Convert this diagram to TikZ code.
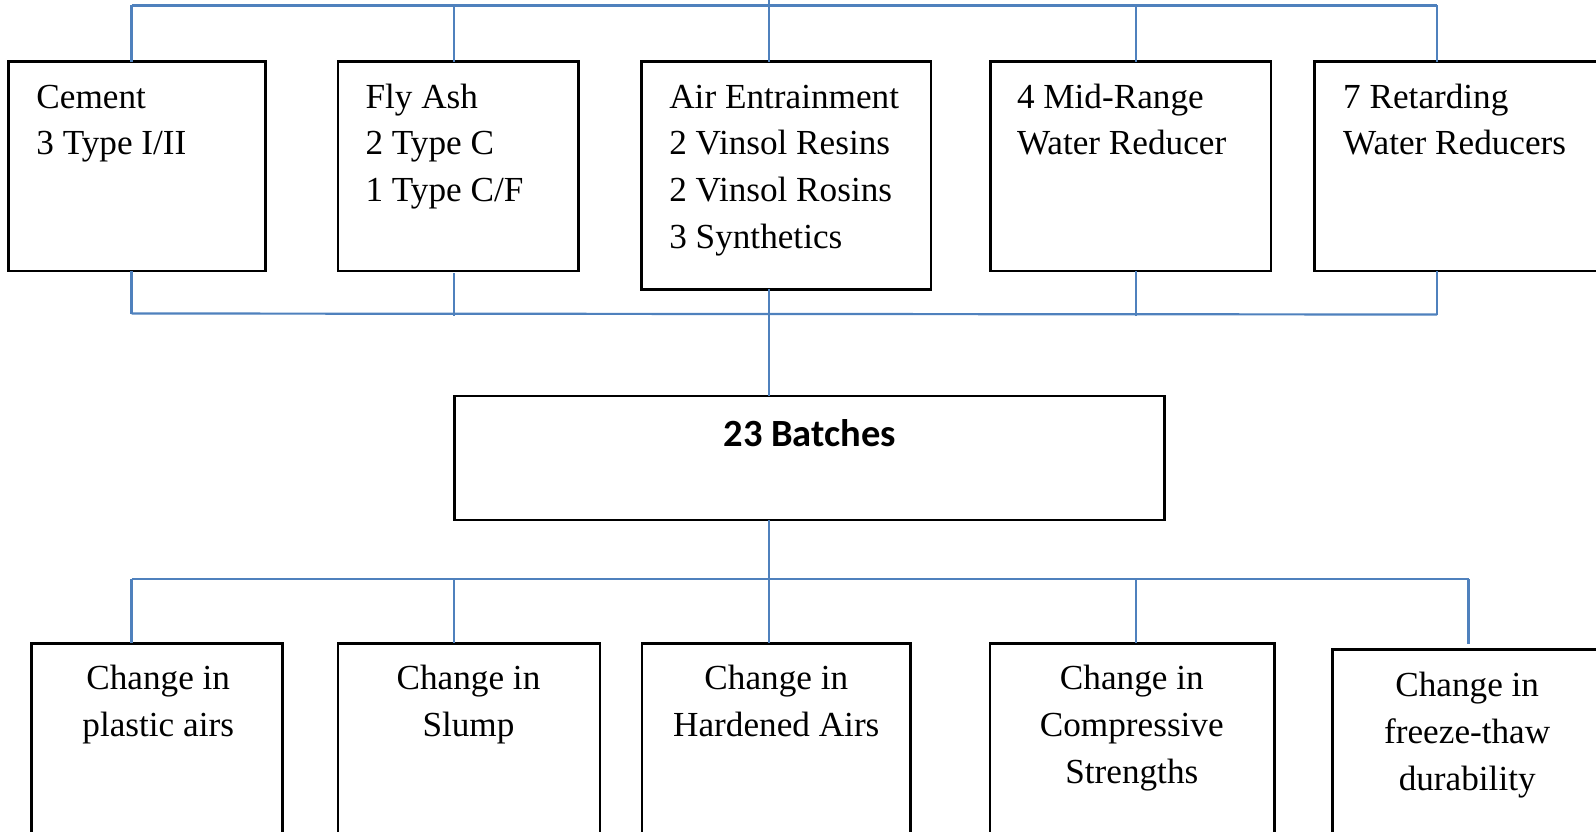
\documentclass[tikz,border=0pt]{standalone}
\usepackage{fontspec}
\usetikzlibrary{calc}
\setmainfont{Liberation Serif}
\newfontfamily\carlito{Carlito}
\definecolor{lineblue}{HTML}{4F81BD}
\begin{document}
\begin{tikzpicture}[x=1pt,y=-1pt,
  box/.style={draw=black, line width=2.6pt, inner sep=0pt, outer sep=0pt, anchor=north west},
  conn/.style={draw=lineblue, line width=2.2pt},
  lbl/.style={inner sep=0pt, outer sep=0pt, font=\fontsize{35.2}{46.7}\selectfont},
  toplbl/.style={lbl, anchor=north west, align=left},
  botlbl/.style={lbl, anchor=north, align=center}]
\useasboundingbox (0,0) rectangle (1596,832);

% top row boxes
\node[box, minimum width=256.8pt, minimum height=209.3pt] (cement) at (8.4,61.7) {};
\node[box, minimum width=240.5pt, minimum height=209.3pt] (flyash) at (337.8,61.7) {};
\node[box, minimum width=289.3pt, minimum height=227.6pt] (air) at (641.7,61.7) {};
\node[box, minimum width=280.6pt, minimum height=209.3pt] (mid) at (990.4,61.7) {};
\node[box, minimum width=295.3pt, minimum height=209.3pt] (retard) at (1314.7,61.7) {};

\node[toplbl] (cementtxt) at (36.4,75.5) {\strut Cement\\3 Type I/II};
\node[toplbl] (flyashtxt) at (365.5,75.5) {\strut Fly Ash\\2 Type C\\1 Type C/F};
\node[toplbl] (airtxt) at (669.3,75.5) {\strut Air Entrainment\\2 Vinsol Resins\\2 Vinsol Rosins\\3 Synthetics};
\node[toplbl] (midtxt) at (1017,75.5) {\strut 4 Mid-Range\\Water Reducer};
\node[toplbl] (retardtxt) at (1343.2,75.5) {\strut 7 Retarding\\Water Reducers};

% middle box
\node[box, minimum width=709.7pt, minimum height=124pt] (batches) at (454.6,396) {};
\node[inner sep=0pt, anchor=base, font=\carlito\bfseries\fontsize{38.5}{46}\selectfont] (batchtxt) at (809.7,446) {23 Batches};

% bottom row boxes
\node[box, minimum width=251.1pt, minimum height=201.7pt] (plastic) at (31.6,643.3) {};
\node[box, minimum width=261.8pt, minimum height=201.7pt] (slump) at (338,643.3) {};
\node[box, minimum width=268.7pt, minimum height=201.7pt] (hardened) at (642,643.3) {};
\node[box, minimum width=284.7pt, minimum height=201.7pt] (compress) at (990,643.3) {};
\node[box, minimum width=277.5pt, minimum height=195.7pt] (freeze) at (1332.5,649.3) {};

\node[botlbl] (plastictxt) at (158.2,657.3) {\strut Change in\\plastic airs};
\node[botlbl] (slumptxt) at (468.5,657.3) {\strut Change in\\Slump};
\node[botlbl] (hardenedtxt) at (776.3,657.3) {\strut Change in\\Hardened Airs};
\node[botlbl] (compresstxt) at (1131.8,657.3) {\strut Change in\\Compressive\\Strengths};
\node[botlbl] (freezetxt) at (1467.2,664) {\strut Change in\\freeze-thaw\\durability};

% top bus
\coordinate (tb1) at (131.5,5.5);
\coordinate (tb2) at (454,5.5);
\coordinate (ttop) at (769,0);
\coordinate (tb4) at (1135.6,5.5);
\coordinate (tb5) at (1437,5.5);
\draw[conn] (tb1) -- (tb5);
\draw[conn] (tb1) -- (tb1 |- cement.north);
\draw[conn] (tb2) -- (tb2 |- flyash.north);
\draw[conn] (ttop) -- (ttop |- air.north);
\draw[conn] (tb4) -- (tb4 |- mid.north);
\draw[conn] (tb5) -- (tb5 |- retard.north);

% bottom bus of top row
\coordinate (bb1) at (131.5,313.5);
\coordinate (bb2) at (454,316);
\coordinate (bb4) at (1135.6,316);
\coordinate (bb5) at (1437,314.5);
\draw[conn] (bb1) -- (bb5);
\draw[conn] (bb1 |- cement.south) -- (bb1);
\draw[conn] ($(bb2 |- flyash.south)+(0,2)$) -- (bb2);
\draw[conn] (bb4 |- mid.south) -- (bb4);
\draw[conn] (bb5 |- retard.south) -- (bb5);
\draw[conn] (ttop |- air.south) -- (ttop |- batches.north);

% lower bus
\coordinate (lc) at (769,579.3);
\coordinate (lb1) at (131.5,579.3);
\coordinate (lb2) at (454,579.3);
\coordinate (lb4) at (1135.6,579.3);
\coordinate (lb5) at (1468.5,579.3);
\coordinate (lb5end) at (1468.5,644);
\draw[conn] (ttop |- batches.south) -- (lc);
\draw[conn] (lb1) -- (lb5);
\draw[conn] (lb1) -- (lb1 |- plastic.north);
\draw[conn] (lb2) -- (lb2 |- slump.north);
\draw[conn] (lc) -- (lc |- hardened.north);
\draw[conn] (lb4) -- (lb4 |- compress.north);
\draw[conn] (lb5) -- (lb5end);
\end{tikzpicture}
\end{document}
